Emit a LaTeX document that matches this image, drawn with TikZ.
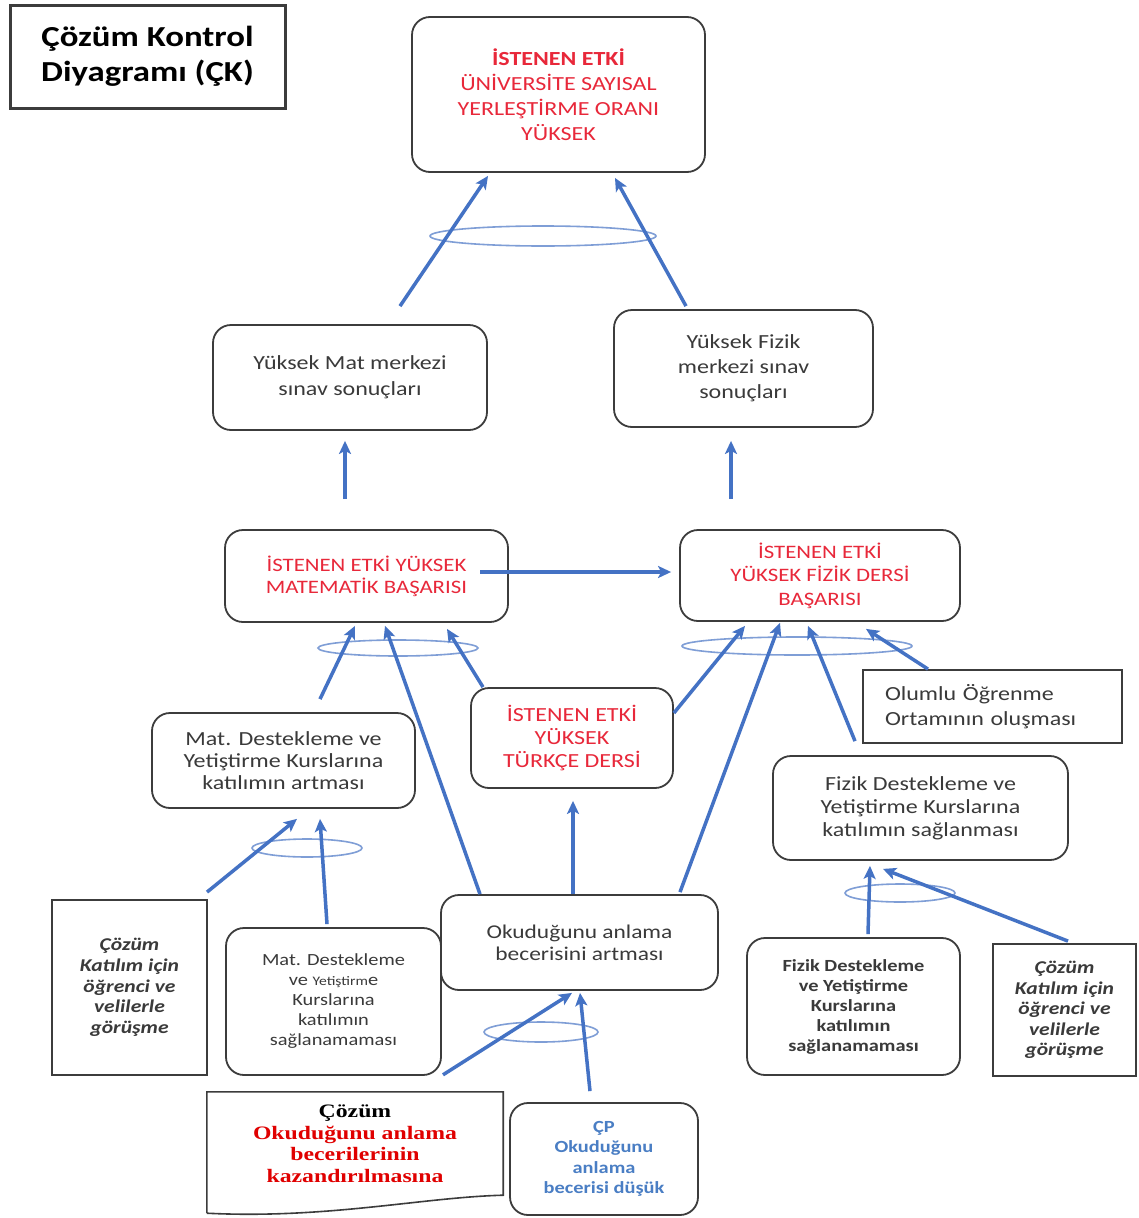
\documentclass[tikz,border=0pt]{standalone}
\usepackage{fontspec}
\setmainfont{Carlito}[FakeStretch=1.2]
\newfontfamily\serifbold{Liberation Serif}[FakeStretch=1.25]
\usetikzlibrary{arrows.meta,calc}

\definecolor{arrowblue}{HTML}{4472C4}
\definecolor{ringblue}{HTML}{7F9ED6}
\definecolor{etkired}{HTML}{E8283A}
\definecolor{docred}{HTML}{E00000}
\definecolor{boxline}{HTML}{3C3C3C}
\definecolor{txt}{HTML}{3A3A3A}
\definecolor{cpblue}{HTML}{4A7EC4}

\newcommand{\fsz}[2]{\fontsize{#1}{#2}\selectfont}

\tikzset{
  rbox/.style={draw=boxline, line width=1.8pt, rounded corners=18pt, inner sep=0pt,
               align=center, text=txt, fill=white},
  sbox/.style={draw=boxline, line width=1.8pt, inner sep=0pt,
               align=center, text=txt, fill=white},
  etki/.style={text=etkired},
  arr/.style={draw=arrowblue, line width=3.5pt,
              -{Stealth[length=13pt,width=12pt,inset=3pt]}},
  ring/.style={draw=ringblue, line width=1.6pt},
  sz/.style 2 args={minimum width=#1pt, minimum height=#2pt},
}

\begin{document}
\begin{tikzpicture}[x=1pt,y=-1pt]
\useasboundingbox[fill=white] (0,0) rectangle (1139,1218);

% title
\node[sbox, line width=3pt, text=black, sz={275}{103}, font=\fsz{29}{35}\bfseries]
  (title) at (147.5,56.5) {Çözüm Kontrol\\Diyagramı (ÇK)};

% goal
\node[rbox, etki, sz={293}{155}, font=\fsz{20}{25}] (top) at (558.5,94.5)
  {\textbf{İSTENEN ETKİ}\\ÜNİVERSİTE SAYISAL\\YERLEŞTİRME ORANI\\YÜKSEK};

% exam results
\node[rbox, sz={274}{105}, font=\fsz{20}{26}] (matres) at (350,377.5)
  {Yüksek Mat merkezi\\sınav sonuçları};
\node[rbox, sz={259}{117}, font=\fsz{20}{25}] (fizres) at (743.5,368.5)
  {Yüksek Fizik\\merkezi sınav\\sonuçları};

% course success
\node[rbox, etki, sz={283}{92}, font=\fsz{19}{22}] (matbas) at (366.5,576)
  {İSTENEN ETKİ YÜKSEK\\MATEMATİK BAŞARISI};
\node[rbox, etki, sz={280}{91}, font=\fsz{19}{23.5}] (fizbas) at (820,575.5)
  {İSTENEN ETKİ\\YÜKSEK FİZİK DERSİ\\BAŞARISI};

% middle layer
\node[rbox, sz={263}{95}, font=\fsz{20}{22}] (matkat) at (283.5,760.5)
  {Mat. Destekleme ve\\Yetiştirme Kurslarına\\katılımın artması};
\node[rbox, etki, sz={202}{100}, font=\fsz{20}{23}] (turkce) at (572,738)
  {İSTENEN ETKİ\\YÜKSEK\\TÜRKÇE DERSİ};
\node[sbox, sz={259}{73}, align=left, text width=215pt, font=\fsz{20}{25}] (olumlu) at (992.5,706.5)
  {Olumlu Öğrenme\\Ortamının oluşması};
\node[rbox, sz={295}{104}, font=\fsz{20}{23}] (fizkat) at (920.5,808)
  {Fizik Destekleme ve\\Yetiştirme Kurslarına\\katılımın sağlanması};

% lower layer
\node[sbox, sz={155}{175}, font=\fsz{18}{20.8}\bfseries\itshape] (cozL) at (129.5,987.5)
  {Çözüm\\Katılım için\\öğrenci ve\\velilerle\\görüşme};
\node[rbox, sz={215}{147}, font=\fsz{17}{20}] (matsag) at (333.5,1001.5)
  {Mat. Destekleme\\ve {\fsz{13}{20}Yetiştirm}e\\Kurslarına\\katılımın\\sağlanamaması};
\node[rbox, sz={277}{95}, font=\fsz{19.5}{22}] (okd) at (579.5,942.5)
  {Okuduğunu anlama\\becerisini artması};
\node[rbox, sz={213}{137}, font=\fsz{17}{20}\bfseries] (fizsag) at (853.5,1006.5)
  {Fizik Destekleme\\ve Yetiştirme\\Kurslarına\\katılımın\\sağlanamaması};
\node[sbox, sz={143}{132}, font=\fsz{18}{20.5}\bfseries\itshape] (cozR) at (1064.5,1010)
  {Çözüm\\Katılım için\\öğrenci ve\\velilerle\\görüşme};

% bottom layer: document-shaped solution box
\node[inner sep=0pt, sz={296}{103}, align=center, text=docred,
      font=\serifbold\fsz{19}{21.5}\bfseries]
  (doc) at (355,1143.5) {{\color{black}Çözüm}\\Okuduğunu anlama\\becerilerinin\\kazandırılmasına};
\draw[draw=boxline, line width=1.6pt]
  ($(doc.south west)+(0,18)$) -- (doc.north west) -- (doc.north east) -- (doc.south east)
  .. controls ($(doc.south east)+(-80,2)$) and ($(doc.south west)+(120,24)$)
  .. ($(doc.south west)+(0,18)$);
\node[rbox, text=cpblue, sz={188}{112}, font=\fsz{17}{20.5}\bfseries] (cp) at (604,1159)
  {ÇP\\Okuduğunu\\anlama\\becerisi düşük};

% rings grouping the joint causes
\draw[ring] (543,236) ellipse [x radius=113, y radius=10];
\draw[ring] (398,648) ellipse [x radius=80, y radius=8];
\draw[ring] (797,646) ellipse [x radius=115, y radius=9];
\draw[ring] (307,848) ellipse [x radius=55, y radius=9];
\draw[ring] (541,1032) ellipse [x radius=57, y radius=10];
\draw[ring] (900,893) ellipse [x radius=55, y radius=9];

% connectors
\draw[arr] ($(matres.north)+(50,-18)$) -- ($(top.south)+(-70.5,3)$);
\draw[arr] ($(fizres.north)+(-57.5,-3)$) -- ($(top.south)+(56.5,5)$);
\draw[arr] ($(matbas.north)+(-21.5,-30)$) -- ($(matres.south)+(-5,10)$);
\draw[arr] ($(fizbas.north)+(-89,-30)$) -- ($(fizres.south)+(-12.5,13)$);
\draw[arr] ($(matbas.center)+(113.5,-4)$) -- ($(fizbas.west)+(-8,-3.5)$);
\draw[arr] ($(matkat.north)+(36.5,-13)$) -- ($(matbas.south)+(-11.5,3)$);
\draw[arr] ($(okd.north)+(-99.5,0)$) -- ($(matbas.south)+(18.5,3)$);
\draw[arr] ($(turkce.north)+(-89,0)$) -- ($(matbas.south)+(80.5,6)$);
\draw[arr] ($(turkce.east)+(0,-25)$) -- ($(fizbas.south)+(-75,4)$);
\draw[arr] ($(okd.north)+(100.5,-2)$) -- ($(fizbas.south)+(-40,1)$);
\draw[arr] ($(fizkat.north)+(-65.5,-14)$) -- ($(fizbas.south)+(-12,4)$);
\draw[arr] ($(olumlu.north)+(-64.5,0)$) -- ($(fizbas.south)+(46,7)$);
\draw[arr] ($(okd.north)+(-6.5,0)$) -- ($(turkce.south)+(1,12)$);
\draw[arr] ($(cozL.north)+(77.5,-7)$) -- ($(matkat.south)+(13.5,10)$);
\draw[arr] ($(matsag.north)+(-6.5,-3)$) -- ($(matkat.south)+(36.5,10)$);
\draw[arr] ($(doc.north)+(88,-17)$) -- ($(okd.south)+(-7.5,2)$);
\draw[arr] ($(cp.north)+(-14,-11)$) -- ($(okd.south)+(0.5,2)$);
\draw[arr] ($(fizsag.north)+(14.5,-3)$) -- ($(fizkat.south)+(-50.5,5)$);
\draw[arr] ($(cozR.north)+(3.5,-2)$) -- ($(fizkat.south)+(-37.5,8)$);
\end{tikzpicture}
\end{document}
